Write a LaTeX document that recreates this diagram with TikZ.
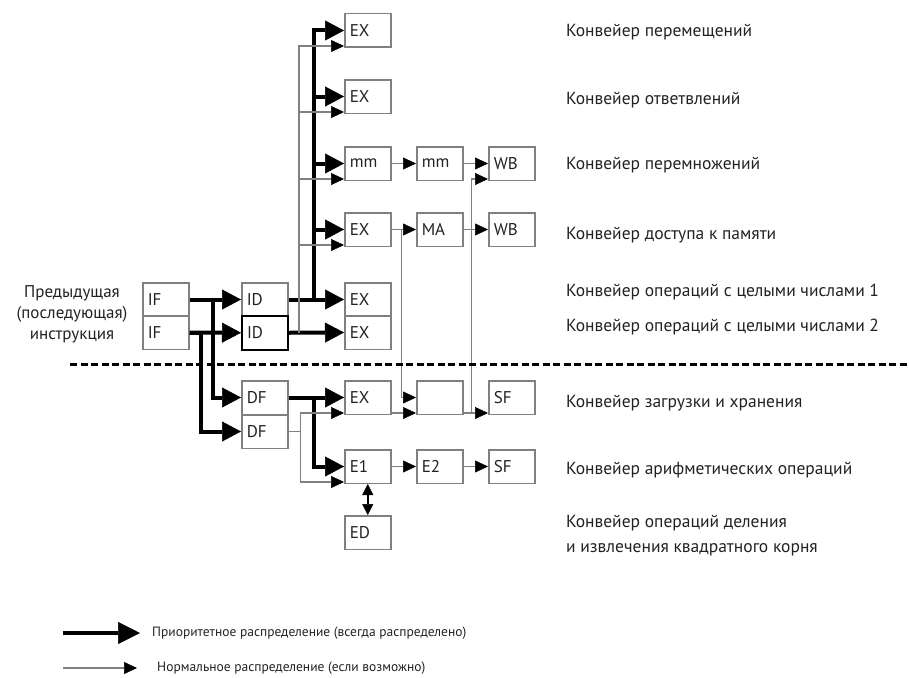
\documentclass[tikz,border=0pt]{standalone}
\usepackage{fontspec}
\setmainfont{PT Sans}
\usetikzlibrary{arrows.meta}

\definecolor{txt}{HTML}{222222}
\definecolor{wire}{HTML}{808080}

\begin{document}
\begin{tikzpicture}[x=1pt,y=-1pt,
  stage/.style={draw=wire,line width=1.5pt,anchor=north west,minimum height=33.5pt,
    text width=36pt,inner xsep=5pt,inner ysep=0pt,align=left,text=txt,
    font=\fontsize{17}{20}\selectfont},
  prio/.style={line width=4pt,-{Triangle[length=19pt,width=20pt,line width=0.5pt]}},
  norm/.style={draw=wire,line width=1.6pt,-{Triangle[length=13pt,width=12pt,line width=0.5pt,black]}},
  lbl/.style={anchor=west,inner sep=0pt,text=txt,font=\fontsize{17.5}{20}\selectfont},
  key/.style={anchor=west,inner sep=0pt,text=txt,font=\fontsize{13.5}{16}\selectfont}]
\useasboundingbox (0,0) rectangle (909,677);

% stages
\node[stage] (if1) at (142,282) {IF};
\node[stage] (if2) at (142,315) {IF};
\node[stage] (id1) at (241,282) {ID};
\node[stage,draw=black,line width=2pt] (id2) at (241,315) {ID};
\node[stage] (df1) at (241,380) {DF};
\node[stage] (df2) at (241,414) {DF};
\node[stage] (ex1) at (344,13) {EX};
\node[stage] (ex2) at (344,79) {EX};
\node[stage] (mm1) at (344,146) {mm};
\node[stage] (ex4) at (344,212) {EX};
\node[stage] (ex5) at (344,282) {EX};
\node[stage] (ex6) at (344,315) {EX};
\node[stage] (ex7) at (344,380) {EX};
\node[stage] (e1) at (344,449) {E1};
\node[stage] (ed) at (344,515) {ED};
\node[stage] (mm2) at (416,146) {mm};
\node[stage] (ma) at (416,212) {MA};
\node[stage] (buf) at (416,380) {};
\node[stage] (e2) at (416,449) {E2};
\node[stage] (wb1) at (488,146) {WB};
\node[stage] (wb2) at (488,212) {WB};
\node[stage] (sf1) at (488,380) {SF};
\node[stage] (sf2) at (488,449) {SF};

% priority issue
\draw[prio] (if1.east) -- (id1.west);
\draw[prio] (if2.east) -- (id2.west);
\draw[prio] (if1.east) -- ++(23,0) |- (df1.west);
\draw[prio] (if2.east) -- ++(11,0) |- (df2.west);
\draw[prio] (id1.east) -- (ex5.west);
\draw[prio] (id2.east) -- (ex6.west);
\foreach \n in {ex1,ex2,mm1,ex4}
  \draw[prio] (id1.east) -- ++(25,0) |- (\n.west);
\draw[prio] (df1.east) -- (ex7.west);
\draw[prio] (df1.east) -- ++(25,0) |- (e1.west);

% normal issue
\foreach \n in {ex1,ex2,mm1,ex4}
  \draw[norm] (id2.east) ++(10,0) |- ([yshift=2pt]\n.south west);
\draw[norm] (df2.east) -- ++(12,0) |- ([yshift=2pt]ex7.south west);
\draw[norm] (df2.east) -- ++(12,0) |- ([yshift=2pt]e1.south west);
\draw[norm] (mm1) -- (mm2);
\draw[norm] (mm2) -- (wb1);
\draw[norm] (ex4) -- (ma);
\draw[norm] (ex4.east) -- ++(10,0) |- (buf.west);
\draw[norm] (ma) -- (wb2);
\draw[norm] ([yshift=2pt]ex7.south east) -- ([yshift=2pt]buf.south west);
\draw[norm] ([yshift=2pt]buf.south east) -- ([yshift=2pt]sf1.south west);
\draw[norm] ([yshift=2pt]buf.south east) -- ++(8,0) |- ([yshift=2pt]wb1.south west);
\draw[norm] (e1) -- (e2);
\draw[norm] (e2) -- (sf2);
\draw[norm,draw=black,{Triangle[length=11pt,width=11pt,line width=0.5pt]}-{Triangle[length=11pt,width=11pt,line width=0.5pt]}] (e1.south) -- (ed.north);

% separator
\draw[line width=3pt,dash pattern=on 7pt off 3.5pt] (70,364) -- (909,364);

% labels
\node[align=center,inner sep=0pt,text=txt,font=\fontsize{17}{21}\selectfont] (prev) at (72,314)
  {Предыдущая\\(последующая)\\инструкция};
\foreach \y/\t [count=\i] in {32/Конвейер перемещений,100/Конвейер ответвлений,
    165/Конвейер перемножений,235/Конвейер доступа к памяти,
    292/Конвейер операций с целыми числами 1,327/Конвейер операций с целыми числами 2,
    403/Конвейер загрузки и хранения,470/Конвейер арифметических операций}
  \node[lbl] (pipe\i) at (566,\y) {\t};
\node[lbl,align=left,font=\fontsize{17.5}{25}\selectfont] (pipe9) at (566,536)
  {Конвейер операций деления\\и извлечения квадратного корня};

% legend
\coordinate (k1a) at (63,633);
\coordinate (k1b) at (140,633);
\coordinate (k2a) at (63,668);
\coordinate (k2b) at (137,668);
\draw[prio,-{Triangle[length=22pt,width=22pt,line width=0.5pt]}] (k1a) -- (k1b);
\draw[norm] (k2a) -- (k2b);
\node[key] (key1) at (152,633) {Приоритетное распределение (всегда распределено)};
\node[key] (key2) at (157,668) {Нормальное распределение (если возможно)};
\end{tikzpicture}
\end{document}
